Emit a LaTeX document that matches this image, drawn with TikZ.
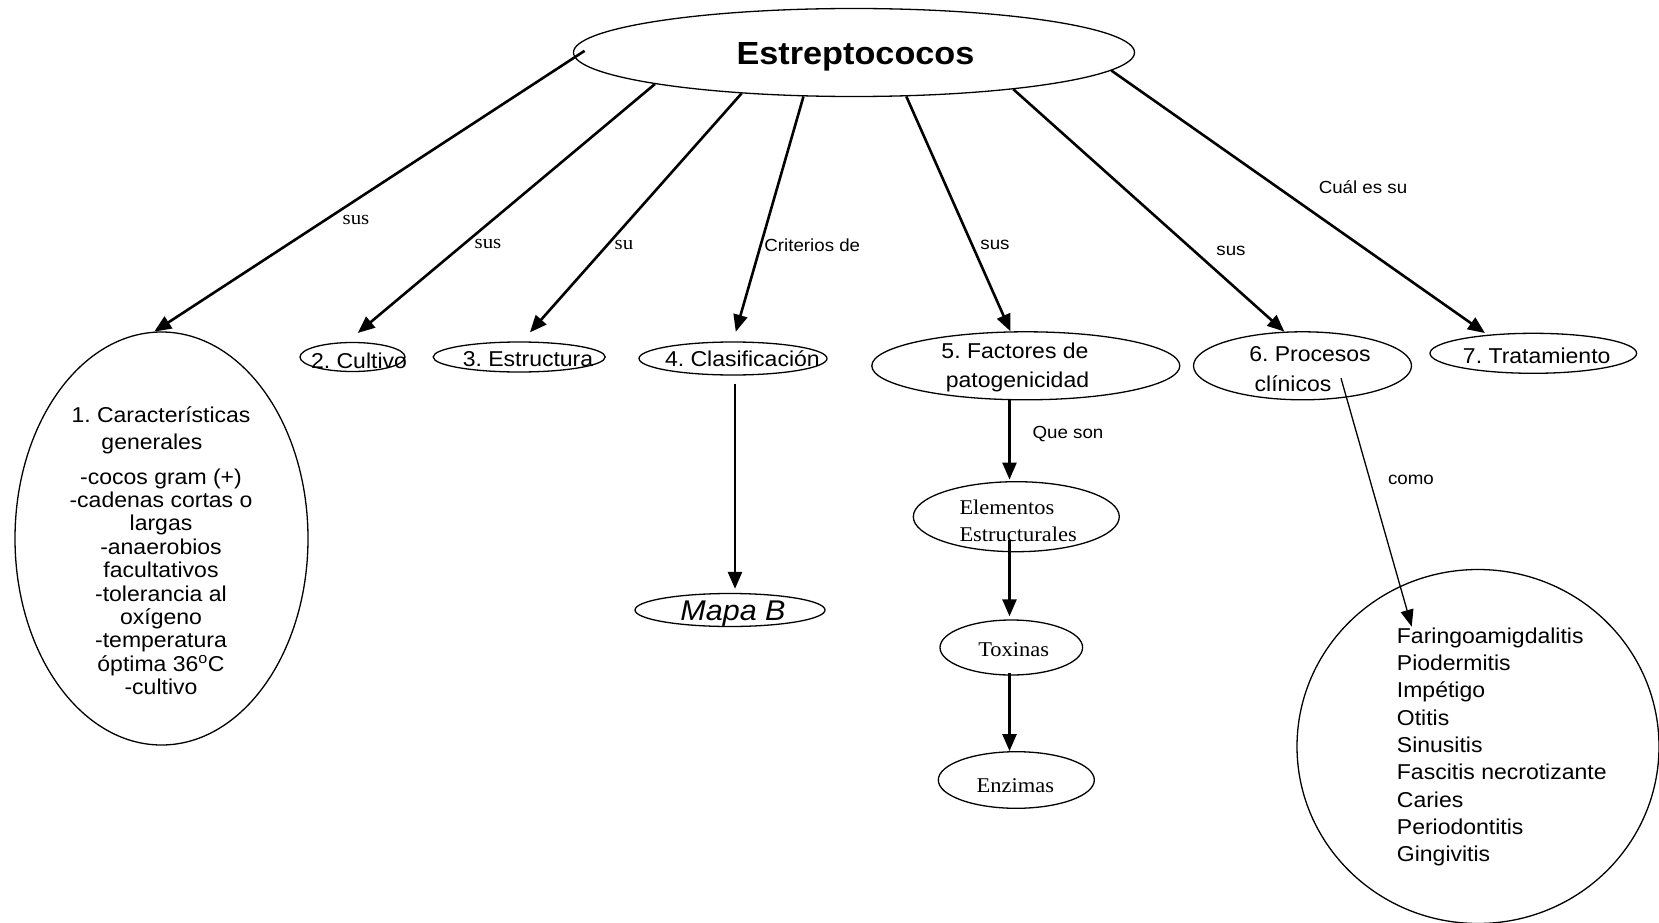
\documentclass[tikz,border=0pt]{standalone}
\usepackage{fontspec}
\setmainfont{Liberation Sans}[FakeStretch=1.07]
\newfontfamily\serifface{Liberation Serif}[FakeStretch=1.07]
\usetikzlibrary{shapes.geometric,arrows.meta,calc}
\frenchspacing

\newcommand\fBody{\fontsize{21.5}{23.4}\selectfont}
\newcommand\fList{\fontsize{21.5}{27.3}\selectfont}
\newcommand\fTitle{\fontsize{32}{36}\selectfont\bfseries}
\newcommand\fMapa{\fontsize{28.5}{32}\selectfont\itshape}
\newcommand\fLab{\fontsize{17.5}{20}\selectfont}
\newcommand\fSLab{\serifface\fontsize{19.5}{22}\selectfont}
\newcommand\fSerif{\serifface\fontsize{21}{24}\selectfont}

\tikzset{
  bub/.style={draw, ellipse, line width=1.3pt, inner sep=0pt},
  txt/.style={inner sep=0pt, anchor=base, font=\fBody},
  txtw/.style={inner sep=0pt, anchor=base west},
  lab/.style={inner sep=0pt, anchor=base, font=\fLab},
  slab/.style={inner sep=0pt, anchor=base, font=\fSLab},
  arr/.style={-{Triangle[length=17pt,width=14pt]}, line width=2.6pt},
  thinarr/.style={-{Triangle[length=17pt,width=13pt]}, line width=1.3pt},
}

\begin{document}
\begin{tikzpicture}[x=1pt, y=-1pt]
\useasboundingbox (0,0) rectangle (1659,923);
\clip (0,0) rectangle (1659,923);

% central concept
\node[bub, minimum width=561pt, minimum height=88pt] (main) at (854,52.5) {};
\node[inner sep=0pt, anchor=base, font=\fTitle] (title) at (855.5,64.5) {Estreptococos};

% first level
\node[bub, minimum width=293pt, minimum height=413pt] (c1) at (161.5,538.5) {};
\node[txt] (c1t) at (161,422.7) {\begin{tabular}[t]{@{}c@{}}
1. Características\\[2.9pt]
generales\hspace*{18pt}\\[11.6pt]
-cocos gram (+)\\
-cadenas cortas o\\
largas\\
-anaerobios\\
facultativos\\
-tolerancia al\\
oxígeno\\
-temperatura\\
óptima 36\textsuperscript{o}C\\
-cultivo
\end{tabular}};

\node[bub, minimum width=105pt, minimum height=29pt] (c2) at (352.5,357) {};
\node[txt] (c2t) at (359,368.3) {2. Cultivo};

\node[bub, minimum width=172pt, minimum height=30pt] (c3) at (519.2,357) {};
\node[txt] (c3t) at (528,366) {3. Estructura};

\node[bub, minimum width=188pt, minimum height=33pt] (c4) at (733,358.5) {};
\node[txt] (c4t) at (742.4,366.7) {4. Clasificación};

\node[bub, minimum width=308pt, minimum height=68pt] (c5) at (1025.8,365.8) {};
\node[txt] (c5a) at (1015,358.3) {5. Factores de};
\node[txt] (c5b) at (1017.5,387.3) {patogenicidad};

\node[bub, minimum width=218pt, minimum height=68pt] (c6) at (1302.5,365.8) {};
\node[txt] (c6a) at (1310,361.7) {6. Procesos};
\node[txt] (c6b) at (1293,391.7) {clínicos};

\node[bub, minimum width=206.6pt, minimum height=40pt] (c7) at (1533.3,353.3) {};
\node[txt] (c7t) at (1536.7,363.3) {7. Tratamiento};

% classification branch
\node[bub, minimum width=190pt, minimum height=33pt] (mapa) at (730,610) {};
\node[inner sep=0pt, anchor=base, font=\fMapa] (mapat) at (733,620.5) {Mapa B};

% pathogenicity branch
\coordinate (spine) at (1009.5,0);
\node[bub, minimum width=206pt, minimum height=70pt] (elem) at (1016.3,516.7) {};
\node[txtw, font=\fSerif] (elema) at (959.3,514) {Elementos};
\node[txtw, font=\fSerif] (elemb) at (959.3,541.7) {Estructurales};

\node[bub, minimum width=142.6pt, minimum height=55pt] (tox) at (1011.3,647.5) {};
\node[inner sep=0pt, anchor=base, font=\fSerif] (toxt) at (1013.7,656.7) {Toxinas};

\node[bub, minimum width=156pt, minimum height=56.6pt] (enz) at (1016.3,780) {};
\node[inner sep=0pt, anchor=base, font=\fSerif] (enzt) at (1015.3,792.7) {Enzimas};

% clinical processes
\node[bub, minimum width=362pt, minimum height=354pt] (list) at (1478,746.5) {};
\node[txtw, font=\fList] (listt) at (1396.7,643.3) {\begin{tabular}[t]{@{}l@{}}
Faringoamigdalitis\\
Piodermitis\\
Impétigo\\
Otitis\\
Sinusitis\\
Fascitis necrotizante\\
Caries\\
Periodontitis\\
Gingivitis
\end{tabular}};

% connectors from the central concept
\draw[arr, shorten <=-12pt] (main.181.4) -- (c1.92.7);
\draw[arr, shorten >=14pt] (main.189.6) -- (c2.110);
\draw[arr, shorten >=12pt] (main.200) -- (c3.80);
\draw[arr, shorten >=10pt] (main.221.5) -- (c4.north);
\draw[arr] (main.320.3) -- (c5.114);
\draw[arr] (main.347) -- (c6.118);
\draw[arr, shorten >=3pt] (main.356.55) -- (c7.158);

% lower connectors
\draw[arr, shorten <=8pt, shorten >=4pt] ([xshift=2pt]c4.south) -- ([xshift=2pt]c4.south |- mapa.north);
\draw[arr, shorten >=1.5pt] (c5.south -| spine) -- (elem.north -| spine);
\draw[arr, shorten >=3pt] ([yshift=-23pt]elem.center -| spine) -- (tox.north -| spine);
\draw[arr] ([yshift=3pt]tox.south -| spine) -- (enz.north -| spine);

\coordinate (comoA) at ([shift={(38.5pt,-12.5pt)}]c6.center);
\coordinate (comoB) at ([shift={(-66.3pt,119.8pt)}]list.center);
\draw[thinarr] (comoA) -- (comoB);

% connector labels
\node[slab] (l1) at (356,224) {sus};
\node[slab] (l2) at (488,248.5) {sus};
\node[slab] (l3) at (624,249.5) {su};
\node[lab] (l4) at (812.3,251) {Criterios de};
\node[lab] (l5) at (995,249.5) {sus};
\node[lab] (l6) at (1231,255) {sus};
\node[lab] (l7) at (1363,193) {Cuál es su};
\node[lab] (l8) at (1068,438) {Que son};
\node[lab] (l9) at (1411,484) {como};
\end{tikzpicture}
\end{document}
